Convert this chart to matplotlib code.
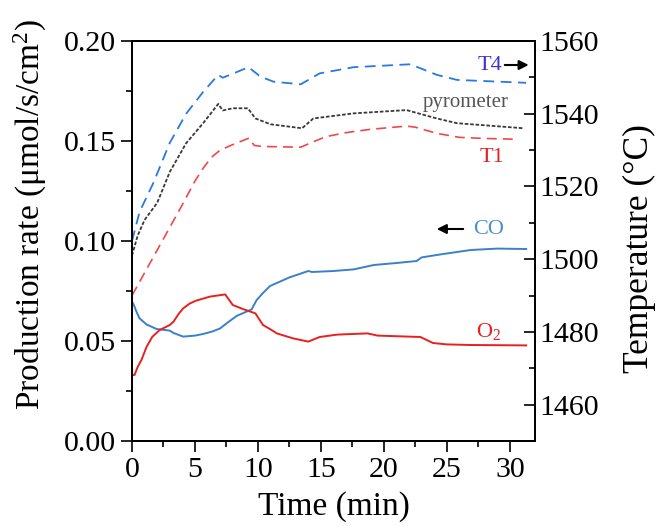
import matplotlib
matplotlib.use("Agg")
import matplotlib.pyplot as plt
from matplotlib.ticker import MultipleLocator

plt.rcParams['font.family'] = ['Liberation Serif', 'DejaVu Serif']
plt.rcParams['mathtext.fontset'] = 'custom'
plt.rcParams['mathtext.rm'] = 'Liberation Serif'
plt.rcParams['mathtext.it'] = 'Liberation Serif:italic'

# ---- data (left axis: production rate, µmol/s/cm2) ----
co_t = [0, 0.15, 0.35, 0.6, 1.15, 1.95, 3.0, 3.3, 4.06, 5.0, 5.65, 6.4, 7.0, 7.4, 8.3, 9.5, 9.9, 10.4, 10.96, 11.75, 12.5, 13.3, 14.0, 14.3, 16.0, 17.6, 19.2, 21.0, 22.6, 23.0, 24.5, 26.9, 29.0, 31.3]
co_v = [0.0697, 0.068, 0.0647, 0.0613, 0.0583, 0.056, 0.0552, 0.054, 0.0522, 0.0527, 0.0535, 0.0548, 0.0563, 0.0583, 0.0625, 0.0658, 0.0705, 0.074, 0.0775, 0.0797, 0.0818, 0.0835, 0.085, 0.0845, 0.085, 0.0858, 0.088, 0.089, 0.090, 0.0918, 0.0933, 0.0955, 0.0962, 0.096]

o2_t = [0, 0.2, 0.45, 0.75, 1.15, 1.6, 2.2, 3.0, 3.3, 3.7, 4.06, 4.6, 5.1, 6.2, 7.4, 8.0, 8.8, 9.8, 10.4, 11.0, 11.5, 12.8, 14.0, 14.9, 16.3, 18.7, 19.5, 22.9, 23.9, 25.0, 26.9, 31.3]
o2_v = [0.033, 0.033, 0.037, 0.0405, 0.047, 0.052, 0.0555, 0.058, 0.0597, 0.0635, 0.0663, 0.0688, 0.0702, 0.0722, 0.0733, 0.068, 0.066, 0.0638, 0.058, 0.0558, 0.0538, 0.0513, 0.0497, 0.052, 0.0532, 0.0538, 0.0527, 0.052, 0.049, 0.0483, 0.048, 0.0478]

# ---- data (right axis: temperature, °C) ----
t4_t = [0, 0.6, 1.7, 3.0, 4.3, 5.65, 6.85, 7.2, 8.0, 9.25, 10.2, 11.25, 13.4, 14.9, 17.6, 22.1, 24.2, 25.8, 31.3]
t4_v = [1505, 1513, 1521, 1532, 1540, 1546, 1550.7, 1549.9, 1551, 1552.8, 1550.2, 1548.8, 1548.1, 1551.1, 1552.8, 1553.6, 1550.7, 1549.3, 1548.5]

t1_t = [0, 2, 4, 5, 5.65, 6.3, 7, 8.2, 9.3, 9.7, 10.3, 13.4, 14.2, 15.4, 17, 18.9, 21.8, 22.5, 24.2, 26, 28, 30.3]
t1_v = [1490, 1502.5, 1515, 1521.5, 1525, 1528, 1530, 1531.8, 1533.3, 1531.3, 1531, 1530.8, 1532, 1533.7, 1534.8, 1535.7, 1536.6, 1536.3, 1534.6, 1533.5, 1533.2, 1533]

pyro_t = [0, 0.45, 1.0, 2.0, 3.0, 4.3, 5.65, 6.85, 7.2, 8.0, 9.2, 9.8, 11.0, 13.5, 14.4, 17.6, 21.8, 24.2, 25.8, 31.1]
pyro_v = [1501, 1506.5, 1510.8, 1515.5, 1524, 1531.9, 1537.4, 1542.7, 1540.9, 1541.5, 1541.5, 1538.7, 1537.1, 1536, 1538.7, 1540.1, 1541, 1538.7, 1537.4, 1536]

x_ticks = [0, 5, 10, 15, 20, 25, 30]
left_ticks = [0.00, 0.05, 0.10, 0.15, 0.20]
right_ticks = [1460, 1480, 1500, 1520, 1540, 1560]

fig = plt.figure(figsize=(6.56, 5.26), dpi=100)
ax = fig.add_axes([132/656, 1-441/526, 403/656, 400/526])
ax2 = ax.twinx()

ax.plot(co_t, co_v, color='#3b80c8', lw=1.4)
ax.plot(o2_t, o2_v, color='#e82020', lw=1.4)
ax2.plot(t4_t, t4_v, color='#2a78e0', lw=1.3, dashes=(6, 3.6))
ax2.plot(t1_t, t1_v, color='#f04848', lw=1.2, dashes=(6, 3.6))
ax2.plot(pyro_t, pyro_v, color='#383838', lw=1.3, dashes=(2, 1))

ax.set_xlim(0, 32)
ax.set_ylim(0, 0.2)
ax2.set_ylim(1450, 1560)

ax.set_xticks(x_ticks)
ax.set_yticks(left_ticks)
ax.set_yticklabels([f'{v:.2f}' for v in left_ticks])
ax2.set_yticks(right_ticks)
ax.xaxis.set_minor_locator(MultipleLocator(2.5))
ax.yaxis.set_minor_locator(MultipleLocator(0.025))
ax2.yaxis.set_minor_locator(MultipleLocator(10))

fs = 21.5
ax.tick_params(axis='both', which='major', direction='out', length=8, width=1.2, labelsize=fs, top=False, right=False)
ax.tick_params(axis='both', which='minor', direction='out', length=4.5, width=1.2, top=False, right=False)
ax2.tick_params(axis='y', which='major', direction='in', length=8, width=1.2, labelsize=fs)
ax2.tick_params(axis='y', which='minor', direction='in', length=4.5, width=1.2)
for a in (ax, ax2):
    for s in a.spines.values():
        s.set_linewidth(1.3)

ax.set_xlabel('Time (min)', fontsize=24)
ax.set_ylabel('Production rate (μmol/s/cm$^2$)', fontsize=24)
ax2.set_ylabel('Temperature (°C)', fontsize=25.5)
ax.xaxis.set_label_coords(0.5, -0.125)
ax.yaxis.set_label_coords(-0.205, 0.567)
ax2.yaxis.set_label_coords(1.218, 0.481)

# annotations
ax.text(28.46, 0.188, 'T4', color='#3a30d8', fontsize=16, ha='center', va='center')
ax.annotate('', xy=(31.5, 0.188), xytext=(29.6, 0.188),
            arrowprops=dict(arrowstyle='-|>', color='black', lw=1.5, mutation_scale=14, shrinkA=0, shrinkB=0))
ax.text(26.47, 0.1695, 'pyrometer', color='#555555', fontsize=15, ha='center', va='center')
ax.text(28.55, 0.142, 'T1', color='#e02020', fontsize=16, ha='center', va='center')
ax.text(28.3, 0.106, 'CO', color='#4a8fd0', fontsize=16, ha='center', va='center')
ax.annotate('', xy=(24.2, 0.106), xytext=(26.3, 0.106),
            arrowprops=dict(arrowstyle='-|>', color='black', lw=1.5, mutation_scale=14, shrinkA=0, shrinkB=0))
ax.text(28.3, 0.0545, 'O$_2$', color='#e82020', fontsize=16, ha='center', va='center')

fig.savefig('out.png', dpi=100)
